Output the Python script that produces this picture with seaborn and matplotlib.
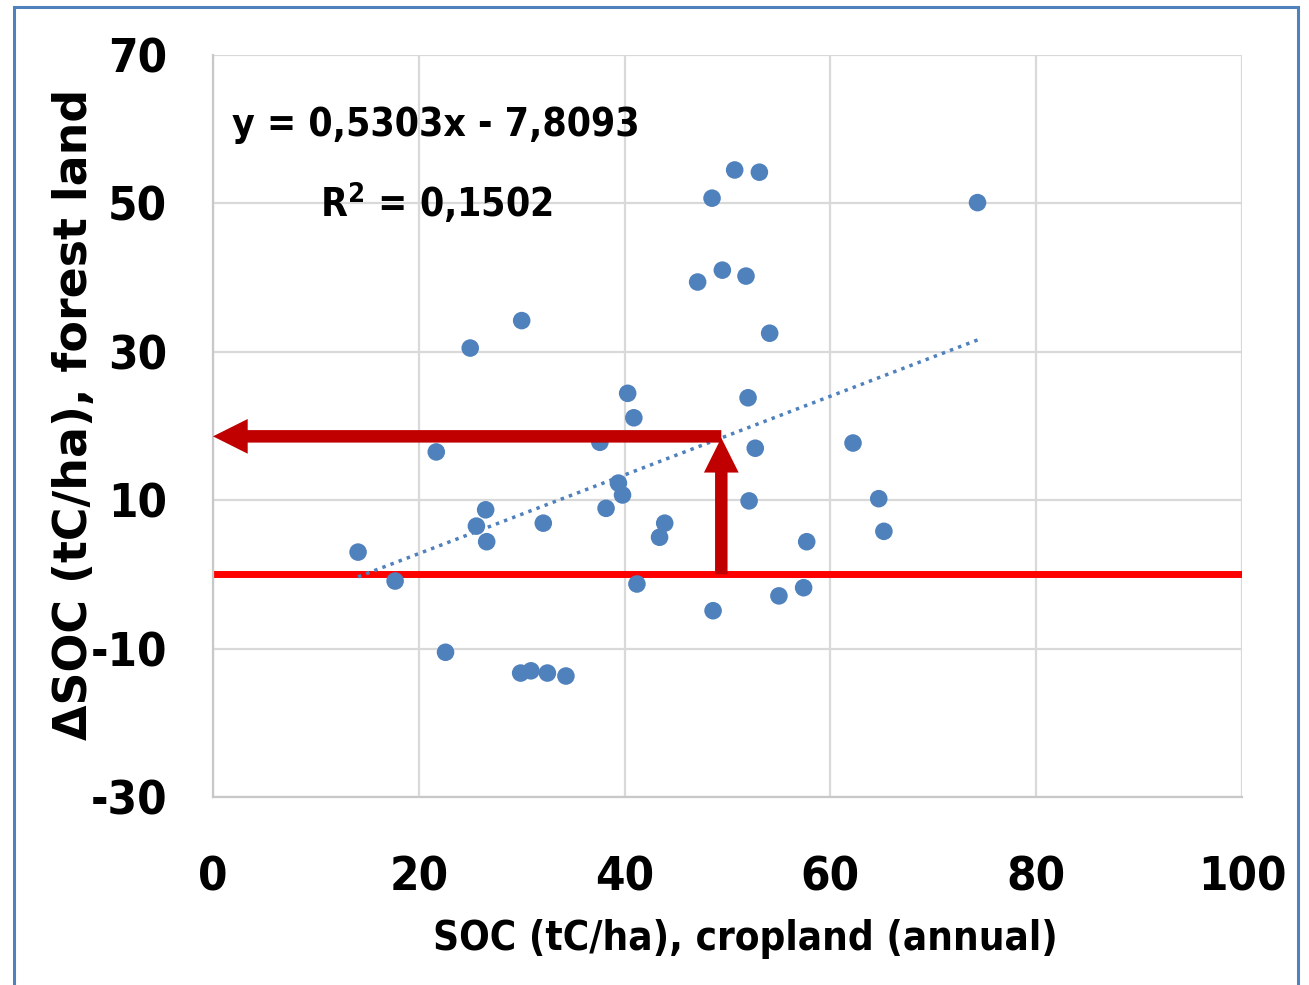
import numpy as np
import pandas as pd
import matplotlib
matplotlib.use("Agg")
import matplotlib.pyplot as plt
from matplotlib.patches import Rectangle
import seaborn as sns

# ------------------------------------------------------------
# Data
# ------------------------------------------------------------
soc_cropland = [14.1, 17.7, 21.7, 22.6, 25.0, 25.6, 26.5, 26.6, 30.0, 29.9,
                30.9, 32.5, 34.3, 32.1, 37.6, 38.2, 39.4, 39.8, 40.3, 40.9,
                41.2, 43.4, 43.9, 47.1, 48.5, 48.6, 49.5, 50.7, 51.8, 52.0,
                52.1, 52.7, 53.1, 54.1, 55.0, 57.4, 57.7, 62.2, 64.7, 65.2,
                74.3]
dsoc_forest = [3.0, -0.9, 16.5, -10.5, 30.5, 6.5, 8.7, 4.4, 34.2, -13.3,
               -13.0, -13.3, -13.7, 6.9, 17.8, 8.9, 12.3, 10.7, 24.4, 21.1,
               -1.3, 5.0, 6.9, 39.4, 50.7, -4.9, 41.0, 54.5, 40.2, 23.8,
               9.9, 17.0, 54.2, 32.5, -2.9, -1.8, 4.4, 17.7, 10.2, 5.8,
               50.1]

SLOPE = 0.5303
INTERCEPT = -7.8093
R2 = 0.1502
trend_x = [min(soc_cropland), max(soc_cropland)]
trend_y = [SLOPE * v + INTERCEPT for v in trend_x]

read_x = 49.4          # SOC value read on the trend line
read_y = 18.6          # corresponding dSOC value

x_ticks = [0, 20, 40, 60, 80, 100]
y_ticks = [-30, -10, 10, 30, 50, 70]

df = pd.DataFrame({"soc": soc_cropland, "dsoc": dsoc_forest})
trend = pd.DataFrame({"x": trend_x, "y": trend_y})

# ------------------------------------------------------------
# Style
# ------------------------------------------------------------
sns.set_theme(style="white")
plt.rcParams["font.family"] = ["DejaVu Sans"]
plt.rcParams["font.stretch"] = "condensed"
plt.rcParams["font.weight"] = "bold"
plt.rcParams["axes.unicode_minus"] = False
plt.rcParams["text.color"] = "black"
plt.rcParams["axes.labelcolor"] = "black"

BLUE = "#4F81BD"
DARK_RED = "#C00000"

fig = plt.figure(figsize=(13.09, 9.85), dpi=100)
ax = fig.add_axes([0.1627, 0.1909, 0.9488 - 0.1627, 0.9442 - 0.1909])

ax.axhline(0, color="#FF0000", lw=5, zorder=2)
sns.lineplot(data=trend, x="x", y="y", ax=ax, color=BLUE, lw=2.5,
             linestyle=(0, (1, 1.5)), zorder=3)
sns.scatterplot(data=df, x="soc", y="dsoc", ax=ax, color=BLUE, s=160,
                edgecolor="none", zorder=4)

# arrows: up from x axis to trend line, then left to the y axis
arrow_kw = dict(arrowstyle="simple,head_length=1.0,head_width=1.0,tail_width=0.36",
                color=DARK_RED, mutation_scale=25, shrinkA=0, shrinkB=0, lw=0)
ax.annotate("", xy=(read_x, read_y - 0.2), xytext=(read_x, 0),
            arrowprops=arrow_kw, zorder=5)
ax.annotate("", xy=(0, read_y), xytext=(read_x, read_y),
            arrowprops=arrow_kw, zorder=5)

ax.text(21.7, 60.6, f"y = {SLOPE:.4f}x - {abs(INTERCEPT):.4f}".replace(".", ","),
        ha="center", va="center", fontsize=28, fontweight="bold")
ax.text(21.7, 50.1, f"R$^2$ = {R2:.4f}".replace(".", ","),
        ha="center", va="center", fontsize=28, fontweight="bold")

ax.set_xlim(0, 100)
ax.set_ylim(-30, 70)
ax.set_xticks(x_ticks)
ax.set_yticks(y_ticks)
ax.grid(True, color="#D9D9D9", lw=1.6)
ax.set_axisbelow(True)
for side in ["top", "right"]:
    ax.spines[side].set_visible(False)
for side in ["left", "bottom"]:
    ax.spines[side].set_color("#C8C8C8")
    ax.spines[side].set_linewidth(1.6)

ax.tick_params(axis="both", length=0, labelsize=34, labelcolor="black")
ax.tick_params(axis="x", pad=42)
ax.tick_params(axis="y", pad=33)
for lab in ax.get_xticklabels() + ax.get_yticklabels():
    lab.set_fontweight("bold")

ax.set_xlabel("SOC (tC/ha), cropland (annual)", fontsize=29, fontweight="bold")
ax.xaxis.set_label_coords(0.517, -0.165)
ax.set_ylabel("ΔSOC (tC/ha), forest land", fontsize=33, fontweight="bold",
              stretch="normal")
ax.yaxis.set_label_coords(-0.113, 0.515)

# blue frame around the figure
fig.patches.append(Rectangle((14 / 1309, -0.05), (1298 - 14) / 1309, 1.05 - 7 / 985,
                             transform=fig.transFigure, fill=False,
                             edgecolor=BLUE, lw=2.2))

fig.savefig("out.png", dpi=100)
